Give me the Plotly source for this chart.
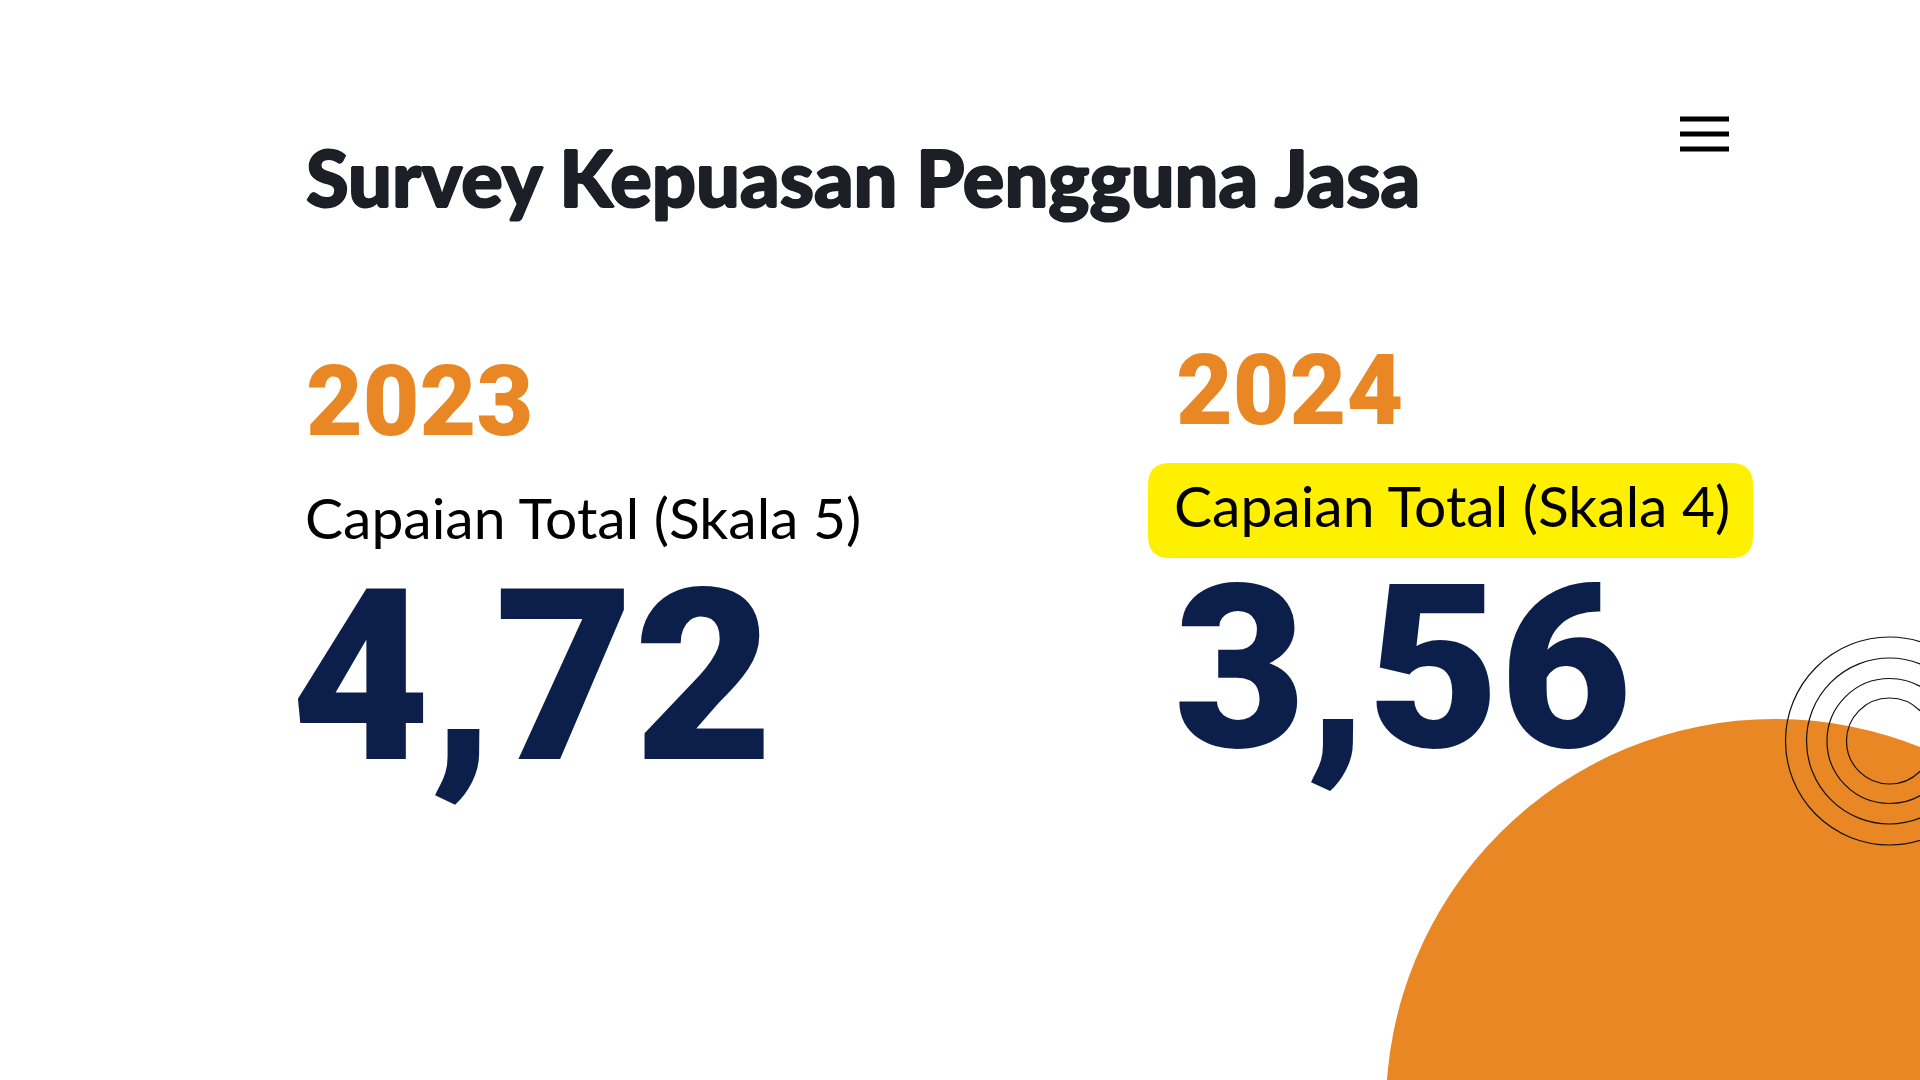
import plotly.graph_objects as go

title_text = "Survey Kepuasan Pengguna Jasa"
years = ["2023", "2024"]
scale_labels = ["Capaian Total (Skala 5)", "Capaian Total (Skala 4)"]
scores = ["4,72", "3,56"]

orange = "#E98724"
navy = "#0C1F4B"
ink = "#1C1F26"
year_x = [304, 1174]
year_y = [401, 390]
label_x = [303, 1172]
label_y = [517, 505]
score_x = [289, 1172]
score_y = [677, 669]
score_size = [240, 228]

ring_radii = [104, 83, 62.5, 43]
menu_y = [119, 134, 149]


def thicken(color, px):
    # Lato has no heavier cut here, so fatten the glyphs with a tight shadow
    return ", ".join(f"{dx}px {dy}px 0 {color}" for dx, dy in [(px, 0), (-px, 0), (0, px), (0, -px)])


fig = go.Figure()
shapes = []

# orange circle bottom right
shapes.append(dict(type="circle", x0=1775 - 389, x1=1775 + 389, y0=1108 - 389, y1=1108 + 389,
                   fillcolor=orange, line_width=0, layer="below"))

for r in ring_radii:
    shapes.append(dict(type="circle", x0=1889.5 - r, x1=1889.5 + r, y0=741 - r, y1=741 + r,
                       line=dict(color="#111111", width=1.2), layer="above"))

for y in menu_y:
    shapes.append(dict(type="line", x0=1680, x1=1729, y0=y, y1=y, line=dict(color="black", width=5)))

# yellow highlight behind the 2024 label
shapes.append(dict(type="path", layer="below", fillcolor="#FFF000", line_width=0,
                   path="M 1170 463 L 1731 463 Q 1753 463 1753 485 L 1753 536 Q 1753 558 1731 558 "
                        "L 1170 558 Q 1148 558 1148 536 L 1148 485 Q 1148 463 1170 463 Z"))

fig.add_annotation(x=304, y=177, text=title_text, showarrow=False, xanchor="left", yanchor="middle",
                   font=dict(family="Lato", size=77.5, color=ink, weight=900, shadow=thicken(ink, 1)))

for i in range(2):
    fig.add_annotation(x=year_x[i], y=year_y[i], text=years[i], showarrow=False,
                       xanchor="left", yanchor="middle",
                       font=dict(family="Roboto", size=98, color=orange, weight=900))
    fig.add_annotation(x=label_x[i], y=label_y[i], text=scale_labels[i], showarrow=False,
                       xanchor="left", yanchor="middle",
                       font=dict(family="Lato", size=57, color="black"))
    fig.add_annotation(x=score_x[i], y=score_y[i], text=scores[i], showarrow=False,
                       xanchor="left", yanchor="middle",
                       font=dict(family="Roboto", size=score_size[i], color=navy, weight=900))

fig.update_layout(
    width=1920, height=1080, margin=dict(l=0, r=0, t=0, b=0),
    paper_bgcolor="white", plot_bgcolor="white", showlegend=False, shapes=shapes,
    xaxis=dict(range=[0, 1920], visible=False),
    yaxis=dict(range=[1080, 0], visible=False),
)
fig.write_html("out.html", config=dict(displayModeBar=False), post_script="document.body.style.margin='0';")
